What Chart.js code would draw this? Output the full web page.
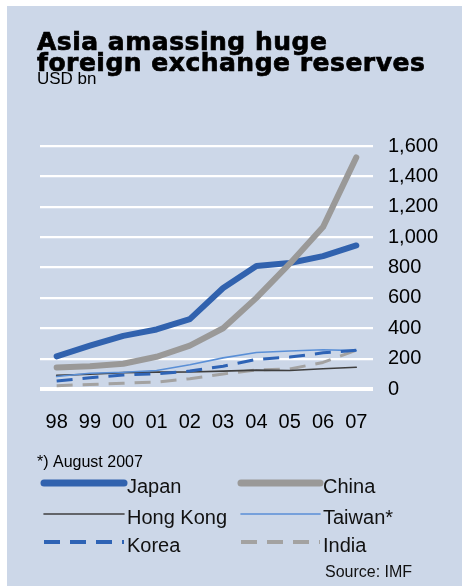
<!DOCTYPE html>
<html>
<head>
<meta charset="utf-8">
<script src="https://cdn.jsdelivr.net/npm/chart.js@4/dist/chart.umd.min.js"></script>
<style>
  html, body { margin: 0; padding: 0; background: #ffffff; }
  canvas { display: block; }
</style>
</head>
<body>
<canvas id="chart" width="462" height="586"></canvas>
<script>
// Years and reserves (USD bn)
var years = ['98', '99', '00', '01', '02', '03', '04', '05', '06', '07'];
var japan    = [215, 285, 350, 392, 460, 665, 810, 830, 875, 945];
var china    = [142, 150, 166, 212, 286, 400, 600, 825, 1066, 1525];
var hongKong = [90, 97, 108, 111, 112, 118, 124, 122, 133, 143];
var taiwan   = [82, 104, 110, 122, 160, 205, 240, 250, 258, 253];
var korea    = [52, 74, 92, 100, 118, 150, 195, 210, 238, 255];
var india    = [22, 30, 38, 45, 68, 99, 125, 132, 175, 255];
var yTicks   = [0, 200, 400, 600, 800, 1000, 1200, 1400, 1600];

var panelColor = '#ccd7e8';
var textFont = '"Liberation Sans", Arial, sans-serif';

// panel background, headings, legend and source note
var panelPlugin = {
	id: 'panel',
	beforeDraw: function(chart){
		var ctx = chart.ctx;
		ctx.save();
		ctx.fillStyle = '#ffffff';
		ctx.fillRect(0, 0, chart.width, chart.height);
		ctx.fillStyle = panelColor;
		ctx.fillRect(7, 6, chart.width - 7, chart.height - 6);
		ctx.restore();
	},
	afterDraw: function(chart){
		var ctx = chart.ctx;
		ctx.save();
		ctx.fillStyle = '#000000';
		ctx.strokeStyle = '#000000';
		ctx.textAlign = 'left';
		ctx.textBaseline = 'alphabetic';

		// title
		ctx.font = 'bold 25px "DejaVu Sans", sans-serif';
		if ('letterSpacing' in ctx) ctx.letterSpacing = '0.5px';
		ctx.lineWidth = 0.7;
		ctx.fillText('Asia amassing huge', 37, 49.5);
		ctx.strokeText('Asia amassing huge', 37, 49.5);
		ctx.fillText('foreign exchange reserves', 37, 70.5);
		ctx.strokeText('foreign exchange reserves', 37, 70.5);
		if ('letterSpacing' in ctx) ctx.letterSpacing = '0px';

		ctx.font = '17px ' + textFont;
		ctx.fillText('USD bn', 37, 83.5);

		// footnote
		ctx.font = '16px ' + textFont;
		ctx.fillText('*) August 2007', 37, 467);

		// legend, two columns
		var rows = [483, 514, 542];
		var lineX = [[44, 124], [241, 320]];
		var labelX = [127, 323];
		chart.data.datasets.forEach(function(ds, i){
			var col = i % 2;
			var row = Math.floor(i / 2);
			var y = rows[row];
			ctx.beginPath();
			ctx.strokeStyle = ds.borderColor;
			ctx.lineWidth = ds.legendWidth;
			ctx.lineCap = ds.borderDash ? 'butt' : 'round';
			ctx.setLineDash(ds.borderDash || []);
			ctx.moveTo(lineX[col][0], y);
			ctx.lineTo(lineX[col][1], y);
			ctx.stroke();
			ctx.setLineDash([]);
			ctx.fillStyle = '#111111';
			ctx.font = '20px ' + textFont;
			ctx.fillText(ds.label, labelX[col], y + 9.5);
		});

		// source
		ctx.font = '16px ' + textFont;
		ctx.fillText('Source: IMF', 325, 577);
		ctx.restore();
	}
};

function series(label, values, color, width, dash, order, legendWidth){
	var ds = {
		label: label,
		data: values,
		borderColor: color,
		backgroundColor: color,
		borderWidth: width,
		borderCapStyle: 'round',
		borderJoinStyle: 'round',
		pointRadius: 0,
		tension: 0,
		order: order,
		legendWidth: legendWidth
	};
	if (dash) {
		ds.borderDash = dash;
		ds.borderCapStyle = 'butt';
	}
	return ds;
}

var ctx = document.getElementById('chart').getContext('2d');
var reserveChart = new Chart(ctx, {
	type: 'line',
	data: {
		labels: years,
		datasets: [
			series('Japan', japan, '#3162ae', 6, null, 1, 7),
			series('China', china, '#9a9998', 6, null, 0, 7),
			series('Hong Kong', hongKong, '#3f3f3f', 1.6, null, 4, 1.6),
			series('Taiwan*', taiwan, '#5a8fd6', 1.6, null, 3, 1.6),
			series('Korea', korea, '#2e63b5', 3, [16, 10], 2, 4),
			series('India', india, '#a3a2a1', 3, [16, 10], 5, 4)
		]
	},
	options: {
		responsive: false,
		animation: false,
		devicePixelRatio: 1,
		layout: {
			padding: { left: 40, top: 146, right: 9, bottom: 131 }
		},
		plugins: {
			legend: { display: false },
			tooltip: { enabled: false }
		},
		scales: {
			x: {
				offset: true,
				grid: { display: false, drawTicks: false },
				border: { display: false },
				ticks: {
					padding: 21,
					color: '#000000',
					maxRotation: 0,
					autoSkip: false,
					font: { family: textFont, size: 20 }
				}
			},
			y: {
				position: 'right',
				min: 0,
				max: 1600,
				afterBuildTicks: function(axis){
					axis.ticks = yTicks.map(function(v){ return { value: v }; });
				},
				grid: {
					color: '#ffffff',
					drawTicks: false,
					lineWidth: function(c){ return c.tick && c.tick.value === 0 ? 4 : 2.2; }
				},
				border: { display: false },
				ticks: {
					padding: 15,
					color: '#000000',
					font: { family: textFont, size: 20 }
				}
			}
		}
	},
	plugins: [panelPlugin]
});
</script>
</body>
</html>
